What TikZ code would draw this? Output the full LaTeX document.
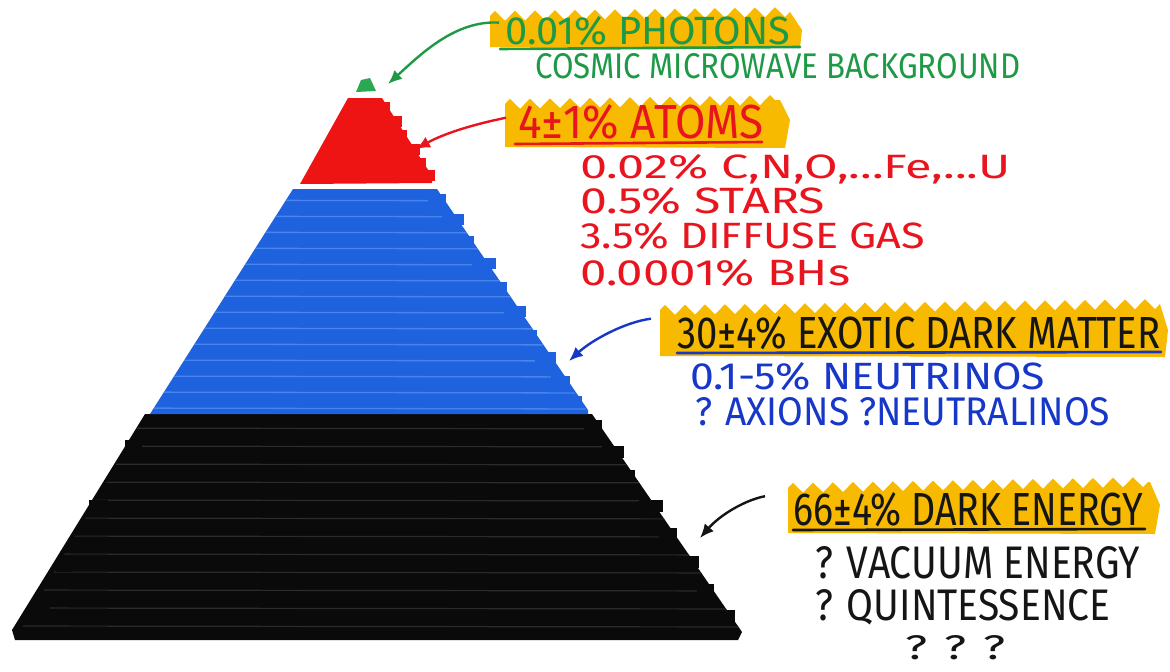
\documentclass[tikz,border=0pt]{standalone}
\usepackage{fontspec}
\setmainfont{Fira Sans}
\usetikzlibrary{decorations.pathmorphing,arrows.meta}
\definecolor{hl}{HTML}{F7BA00}
\definecolor{tgreen}{HTML}{1E9A46}
\definecolor{tred}{HTML}{E8141E}
\definecolor{tblue}{HTML}{1637C8}
\definecolor{tblack}{HTML}{151515}
\definecolor{pred}{HTML}{EE1414}
\definecolor{pblue}{HTML}{1E62E0}
\definecolor{pbluel}{HTML}{5A94F0}
\definecolor{pblack}{HTML}{0A0A0A}
\definecolor{pgrey}{HTML}{2A2A30}
\definecolor{pgreen}{HTML}{2DA852}
\newcommand\fitbox[3]{\resizebox{#1pt}{#2pt}{#3}}
\tikzset{
  lbl/.style={anchor=base west,inner sep=0pt},
  hlband/.style={fill=hl},
  zz/.style={decoration={zigzag,segment length=20pt,amplitude=5pt}},
  arr/.style={line width=2.4pt,-{Latex[length=14pt,width=12pt]}},
  uline/.style={line width=2.6pt,line cap=round}
}
\begin{document}
\begin{tikzpicture}[x=1pt,y=-1pt]
\useasboundingbox (0,0) rectangle (1170,672);

% ---------- pyramid ----------
% black layer
\fill[pblack] (145,414) -- (592,414) -- (742,632) -- (738,640) -- (15,640) -- (12,630) -- cycle;
\begin{scope}
\clip (145,414) -- (592,414) -- (742,632) -- (15,640) -- cycle;
\foreach \yy in {428,446,...,636} \draw[pgrey,line width=1.2pt] (0,\yy) -- (760,\yy+1);
\end{scope}
\foreach \yy/\dx in {420/6,446/10,470/4,500/12,528/6,556/9,584/5,610/8}
  \fill[pblack] ({592+(\yy-414)*0.69-12},\yy) rectangle ({592+(\yy-414)*0.69+\dx},\yy+12);
\foreach \yy/\dx in {440/5,500/7,560/5,600/6}
  \fill[pblack] ({145-(\yy-414)*0.575+12},\yy) rectangle ({145-(\yy-414)*0.575-\dx},\yy+12);

% blue layer
\fill[pblue] (293,189) -- (437,189) -- (588,410) -- (588,414) -- (150,414) -- cycle;
\begin{scope}
\clip (293,189) -- (437,189) -- (588,412) -- (150,414) -- cycle;
\foreach \yy in {200,216,...,410} \draw[pbluel,line width=1.3pt,opacity=.7] (100,\yy) -- (600,\yy+1);
\end{scope}
\foreach \yy/\dx in {194/6,214/10,236/5,258/12,282/7,306/10,330/5,352/9,376/7,396/5}
  \fill[pblue] ({437+(\yy-189)*0.674-12},\yy) rectangle ({437+(\yy-189)*0.674+\dx},\yy+11);

% red layer
\fill[pred] (348,98) -- (382,98) -- (432,176) -- (432,183) -- (300,184) -- cycle;
\foreach \yy/\dx in {102/5,116/8,130/5,144/9,158/6,170/7}
  \fill[pred] ({382+(\yy-98)*0.64-10},\yy) rectangle ({382+(\yy-98)*0.64+\dx},\yy+11);

% green tip
\fill[pgreen] (356,92) -- (361,80) -- (370,78) -- (376,91) -- cycle;

\coordinate (tip) at (388,84);
\coordinate (redr) at (416,149);
\coordinate (bluer) at (569,361);
\coordinate (blackr) at (700,538);

% ---------- highlight bands ----------
\fill[hlband] (490,47) -- (490,16) decorate[zz]{-- (790,12)} -- (802,30) -- (800,48) -- cycle;
\fill[hlband] (505,147) -- (505,104) decorate[zz]{-- (780,100)} -- (790,120) -- (785,148) -- cycle;
\fill[hlband] (660,356) -- (660,310) decorate[zz]{-- (1160,304)} -- (1168,330) -- (1165,357) -- cycle;
\fill[hlband] (788,533) -- (788,488) decorate[zz]{-- (1150,482)} -- (1160,505) -- (1155,534) -- cycle;

% ---------- texts ----------
\node[lbl,text=tgreen] (photons) at (505,44) {\fitbox{285}{28}{0.01\% PHOTONS}};
\node[lbl,text=tgreen] (cmb) at (535,78) {\fitbox{485}{25}{COSMIC MICROWAVE BACKGROUND}};

\node[lbl,text=tred] (atoms) at (518,138) {\fitbox{245}{34}{4±1\% ATOMS}};
\node[lbl,text=tred] (metals) at (580,178) {\fitbox{430}{24}{0.02\% C,N,O,...Fe,...U}};
\node[lbl,text=tred] (stars) at (580,213) {\fitbox{245}{26}{0.5\% STARS}};
\node[lbl,text=tred] (gas) at (580,248) {\fitbox{345}{26}{3.5\% DIFFUSE GAS}};
\node[lbl,text=tred] (bh) at (580,285) {\fitbox{270}{26}{0.0001\% BHs}};

\node[lbl,text=tblack] (edm) at (677,348) {\fitbox{483}{32}{30±4\% EXOTIC DARK MATTER}};
\node[lbl,text=tblue] (nu) at (690,389) {\fitbox{355}{27}{0.1-5\% NEUTRINOS}};
\node[lbl,text=tblue] (ax) at (695,425) {\fitbox{415}{28}{? AXIONS ?NEUTRALINOS}};

\node[lbl,text=tblack] (de) at (793,525) {\fitbox{350}{33}{66±4\% DARK ENERGY}};
\node[lbl,text=tblack] (vac) at (815,578) {\fitbox{325}{32}{? VACUUM ENERGY}};
\node[lbl,text=tblack] (quint) at (815,620) {\fitbox{295}{31}{? QUINTESSENCE}};
\node[lbl,text=tblack] (qqq) at (905,659) {\fitbox{100}{24}{? ? ?}};

% ---------- underlines ----------
\draw[uline,tgreen] (photons.base west) ++(-5,5) -- ++(300,-2);
\draw[uline,tred] (atoms.base west) ++(-3,6) -- ++(247,-2);
\draw[uline,tblue] (edm.base west) ++(0,5) -- ++(484,-1);
\draw[uline,tblack] (de.base west) ++(0,5) -- ++(352,-1);

% ---------- arrows ----------
\draw[arr,tgreen] (photons.west) ++(-6,-8) .. controls (455,20) and (420,55) .. (tip);
\draw[arr,tred] (atoms.west) ++(-12,-4) .. controls (475,124) and (445,133) .. (redr);
\draw[arr,tblue] (edm.west) ++(-26,-14) .. controls (625,322) and (592,340) .. (bluer);
\draw[arr,tblack] (de.west) ++(-28,-13) .. controls (745,500) and (720,515) .. (blackr);
\end{tikzpicture}
\end{document}
